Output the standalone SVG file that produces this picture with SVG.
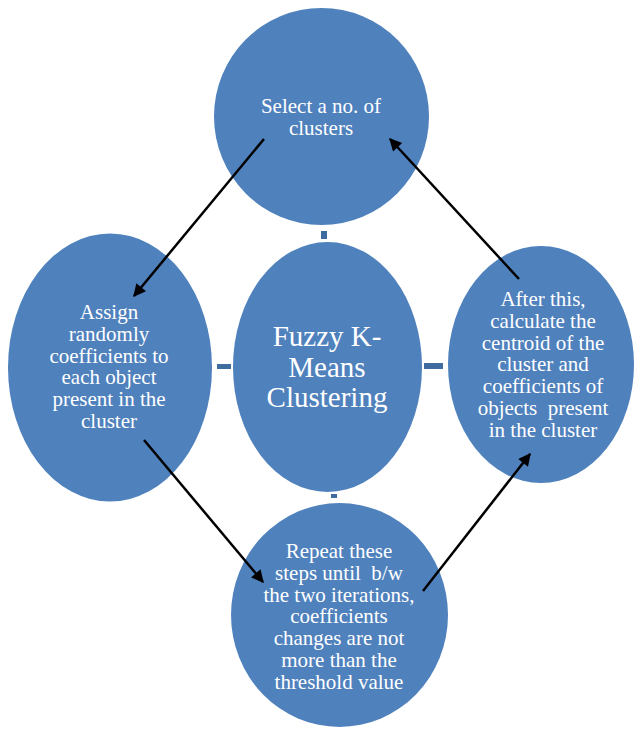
<svg xmlns="http://www.w3.org/2000/svg" width="634" height="730" viewBox="0 0 634 730">
<defs>
<style>
.n{fill:#4F81BD;}
.t{fill:#FFFFFF;font-family:"Liberation Serif","Times New Roman",serif;font-size:21px;text-anchor:middle;}
.tc{font-size:29px;}
.d{fill:#3F6C9E;}
.a{stroke:#000;stroke-width:2.5;fill:none;marker-end:url(#ah);}
</style>
<marker id="ah" viewBox="0 0 10 10" refX="9" refY="5" markerWidth="6" markerHeight="5" markerUnits="strokeWidth" orient="auto">
<path d="M0,0 L10,5 L0,10 Z" fill="#000"/>
</marker>
</defs>
<rect width="634" height="730" fill="#FFFFFF"/>
<g id="dashes">
<rect class="d" x="321" y="231" width="6" height="8"/>
<rect class="d" x="217" y="364" width="14" height="5"/>
<rect class="d" x="424" y="363" width="19" height="6"/>
<rect class="d" x="331" y="494" width="6" height="4"/>
</g>
<g id="node-top">
<ellipse class="n" cx="321.5" cy="116.5" rx="107.5" ry="108.5"/>
<text class="t" x="321" y="113">Select a no. of</text>
<text class="t" x="321" y="134.5">clusters</text>
</g>
<g id="node-center">
<ellipse class="n" cx="327.5" cy="367" rx="94.5" ry="125"/>
<text class="t tc" x="327" y="346">Fuzzy K-</text>
<text class="t tc" x="327" y="376.5">Means</text>
<text class="t tc" x="327" y="407">Clustering</text>
</g>
<g id="node-left">
<ellipse class="n" cx="110" cy="367.5" rx="102" ry="134"/>
<text class="t" x="109" y="319">Assign</text>
<text class="t" x="109" y="340.8">randomly</text>
<text class="t" x="109" y="362.6">coefficients to</text>
<text class="t" x="109" y="384.4">each object</text>
<text class="t" x="109" y="406.2">present in the</text>
<text class="t" x="109" y="428">cluster</text>
</g>
<g id="node-right">
<ellipse class="n" cx="541" cy="364.5" rx="93" ry="118.5"/>
<text class="t" x="543" y="306">After this,</text>
<text class="t" x="543" y="327.8">calculate the</text>
<text class="t" x="543" y="349.6">centroid of the</text>
<text class="t" x="543" y="371.4">cluster and</text>
<text class="t" x="543" y="393.2">coefficients of</text>
<text class="t" x="543" y="415" xml:space="preserve">objects  present</text>
<text class="t" x="543" y="436.8">in the cluster</text>
</g>
<g id="node-bottom">
<ellipse class="n" cx="339.5" cy="615" rx="108.5" ry="112"/>
<text class="t" x="339" y="558">Repeat these</text>
<text class="t" x="339" y="579.8" xml:space="preserve">steps until  b/w</text>
<text class="t" x="339" y="601.6">the two iterations,</text>
<text class="t" x="339" y="623.4">coefficients</text>
<text class="t" x="339" y="645.2">changes are not</text>
<text class="t" x="339" y="667">more than the</text>
<text class="t" x="339" y="688.8">threshold value</text>
</g>
<g id="connectors">
<line class="a" x1="264" y1="139" x2="134" y2="296"/>
<line class="a" x1="144" y1="440" x2="263" y2="582"/>
<line class="a" x1="423" y1="591" x2="530" y2="454"/>
<line class="a" x1="519" y1="279" x2="390" y2="139"/>
</g>
</svg>
